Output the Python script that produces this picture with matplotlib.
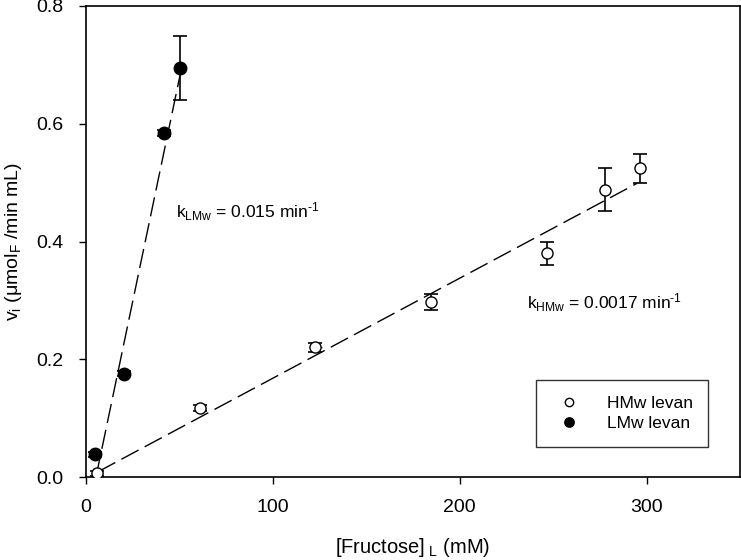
import numpy as np
import matplotlib
matplotlib.use("Agg")
import matplotlib.pyplot as plt

plt.rcParams['font.family'] = ['Liberation Sans', 'DejaVu Sans']
plt.rcParams['mathtext.fontset'] = 'custom'
plt.rcParams['mathtext.rm'] = 'Liberation Sans'
plt.rcParams['mathtext.it'] = 'Liberation Sans'
plt.rcParams['mathtext.default'] = 'regular'

# HMw levan data
hmw_x = [5.9, 61.1, 122.7, 184.8, 246.7, 277.6, 296.4]
hmw_y = [0.006, 0.117, 0.220, 0.297, 0.380, 0.488, 0.524]
hmw_err = [0.004, 0.005, 0.008, 0.014, 0.020, 0.037, 0.024]
hmw_xerr = [3.0, 3.0, 3.5, 0, 0, 0, 0]

# LMw levan data
lmw_x = [4.8, 20.5, 41.9, 50.5]
lmw_y = [0.0385, 0.1755, 0.585, 0.695]
lmw_err = [0.004, 0.004, 0.005, 0.054]
lmw_xerr = [3.0, 3.0, 3.0, 0]

# fitted lines (endpoints)
hmw_fit_x = [6.5, 295.0]
hmw_fit_y = [0.009, 0.499]
lmw_fit_x = [5.6, 50.3]
lmw_fit_y = [0.004, 0.682]

fig = plt.figure(figsize=(7.41, 5.60), dpi=100)
ax = fig.add_axes([86/741, 83/560, 654/741, 471/560])

dash = (14, 5)
ax.plot(hmw_fit_x, hmw_fit_y, color='black', lw=1.0, dashes=dash, zorder=2)
ax.plot(lmw_fit_x, lmw_fit_y, color='black', lw=1.0, dashes=dash, zorder=2)

ax.errorbar(hmw_x, hmw_y, yerr=hmw_err, fmt='none', ecolor='black',
            elinewidth=1.2, capsize=5, capthick=1.2, zorder=3)
ax.errorbar(lmw_x, lmw_y, yerr=lmw_err, fmt='none', ecolor='black',
            elinewidth=1.2, capsize=5, capthick=1.2, zorder=3)
ax.errorbar(hmw_x, hmw_y, xerr=hmw_xerr, fmt='none', ecolor='#333333',
            elinewidth=1.0, capsize=0, zorder=3)
ax.errorbar(lmw_x, lmw_y, xerr=lmw_xerr, fmt='none', ecolor='#333333',
            elinewidth=1.0, capsize=0, zorder=3)

ax.plot(hmw_x, hmw_y, 'o', ms=8, mfc='white', mec='black', mew=1.0,
        linestyle='none', zorder=4, label='HMw levan')
ax.plot(lmw_x, lmw_y, 'o', ms=9, mfc='black', mec='black', mew=1.0,
        linestyle='none', zorder=4, label='LMw levan')

ax.set_xlim(0, 350)
ax.set_ylim(0, 0.8)
ax.set_xticks([0, 100, 200, 300])
ax.set_yticks([0.0, 0.2, 0.4, 0.6, 0.8])
ax.set_yticklabels(['0.0', '0.2', '0.4', '0.6', '0.8'])
ax.tick_params(axis='both', direction='out', length=5, width=1,
               labelsize=14, pad=11, top=False, right=False)
for s in ax.spines.values():
    s.set_linewidth(1.2)

ax.set_xlabel(r'[Fructose]$_{\ L}$ (mM)', fontsize=14.5, labelpad=14)
ax.set_ylabel(r'v$_{i}$ ($\mu$mol$_{F}$ /min mL)', fontsize=14, labelpad=9)

ax.text(48, 0.45, r'k$_{LMw}$ = 0.015 min$^{‐1}$', fontsize=12.5, va='center')
ax.text(236, 0.296, r'k$_{HMw}$ = 0.0017 min$^{‐1}$', fontsize=12.5, va='center')

leg = ax.legend(loc='lower right', bbox_to_anchor=(0.965, 0.045),
                fontsize=12.5, frameon=True, fancybox=False,
                edgecolor='black', markerscale=0.75, handletextpad=1.2,
                borderpad=0.9, labelspacing=0.3, handlelength=2.0)
leg.get_frame().set_linewidth(1.0)

fig.savefig('out.png', dpi=100)
